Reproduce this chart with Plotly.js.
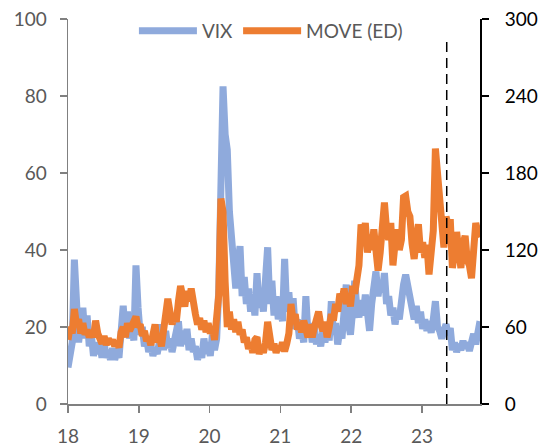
<!DOCTYPE html>
<html>
<head>
<meta charset="utf-8">
<script src="https://cdn.plot.ly/plotly-3.0.1.min.js"></script>
<style>html,body{margin:0;padding:0;background:#fff;}#chart{width:546px;height:446px;}</style>
</head>
<body>
<div id="chart"></div>
<script>
// Decimal years (18 = 2018)
const dates = [
  18.00,18.03,18.06,18.09,18.12,18.15,18.18,18.21,18.24,18.27,
  18.30,18.33,18.36,18.39,18.42,18.45,18.48,18.51,18.54,18.57,
  18.60,18.63,18.66,18.69,18.72,18.75,18.78,18.81,18.84,18.87,
  18.90,18.93,18.96,18.99,19.02,19.05,19.08,19.11,19.14,19.17,
  19.20,19.23,19.26,19.29,19.32,19.35,19.38,19.41,19.44,19.47,
  19.50,19.53,19.56,19.59,19.62,19.65,19.68,19.71,19.74,19.77,
  19.80,19.83,19.86,19.89,19.92,19.95,19.98,20.01,20.04,20.07,
  20.10,20.13,20.16,20.19,20.22,20.25,20.28,20.31,20.34,20.37,
  20.40,20.43,20.46,20.49,20.52,20.55,20.58,20.61,20.64,20.67,
  20.70,20.73,20.76,20.79,20.82,20.85,20.88,20.91,20.94,20.97,
  21.00,21.03,21.06,21.09,21.12,21.15,21.18,21.21,21.24,21.27,
  21.30,21.33,21.36,21.39,21.42,21.45,21.48,21.51,21.54,21.57,
  21.60,21.63,21.66,21.69,21.72,21.75,21.78,21.81,21.84,21.87,
  21.90,21.93,21.96,21.99,22.02,22.05,22.08,22.11,22.14,22.17,
  22.20,22.23,22.26,22.29,22.32,22.35,22.38,22.41,22.44,22.47,
  22.50,22.53,22.56,22.59,22.62,22.65,22.68,22.71,22.74,22.77,
  22.80,22.83,22.86,22.89,22.92,22.95,22.98,23.01,23.04,23.07,
  23.10,23.13,23.16,23.19,23.22,23.25,23.28,23.31,23.34,23.37,
  23.40,23.43,23.46,23.49,23.52,23.55,23.58,23.61,23.64,23.67,
  23.70,23.73,23.76,23.79,23.82
];
const vixValues = [
  9.5,12,16,37.5,24,16,21,25,17,23,
  15,18,12.5,16,13,15.5,12,16,12,14,
  11.5,14.5,11.5,13.5,12,20,25.5,18,24,17,
  21,16.5,36,25,18,20,15,17,13.5,15.5,
  12.5,14.5,13,16,20.7,14,19,14.5,17,13.5,
  16,19,21.5,15,19,15.5,19.5,14,17,13.5,
  15,11.5,14,12,17,13,16,12.5,18,14,
  17,30,55,82.5,70,66,50,44,38,30,
  36,41,28,33,26,30,24,28,23,34,
  25,29,24,30,40.7,26,32,23,28,22,
  25,21.5,37.7,24,29,22,27.5,19.5,22,17,
  19,16,28,18,21,16,20,15.5,18,15,
  19,16,20,16.5,26.7,18,21,15.5,19,17,
  24,31,21,18,24,32,25,22.5,27,23,
  28.4,22,19,26,30,34.4,28,32,29,34,
  26,28,23,25,20.7,24,22,28,31,33.6,
  30,29,24,22,25.5,21,24,19.5,22,19,
  21.5,18.5,22,26.7,20,19,17,20,20.7,18,
  19.7,14,16,13.5,15.5,14,16.4,14.5,16,13.8,
  17,18.2,15.5,19,21.5
];
const moveValues = [
  50,60,55,74,62,66,55,63,54,58,
  52,56,52,65,55,52,47,53,46,51,
  47,50,45,49,44,56,60,52,63,57,
  62,66,68,60,62,53,57,49,52,46,
  55,62,48,52,45,58,68,82,72,62,
  70,64,80,92,84,76,88,80,90,75,
  70,62,67,58,65,56,63,55,60,50,
  70,85,160,150,95,60,72,58,66,56,
  64,54,58,48,52,43,48,40,50,52,
  39,45,40,48,64,48,42,47,40,45,
  42,48,41,47,55,78,65,70,58,63,
  56,65,58,52,62,52,60,67,72,62,
  57,64,52,60,70,65,78,72,86,80,
  90,78,85,76,92,86,100,108,140,128,
  141,118,132,120,136,112,104,118,144,157,
  136,128,141,108,125,136,120,128,161,162,
  150,146,125,113,128,140,118,126,114,124,
  101,120,135,199,175,160,130,122,146,140,
  144,106,118,134,120,106,125,131,112,108,
  98,120,141,134,130
];

const xTicks = [18,19,20,21,22,23];
const leftTicks = [0,20,40,60,80,100];
const rightTicks = [0,60,120,180,240,300];
const seriesNames = ['VIX','MOVE (ED)'];
const markerDate = 23.35;

const FONT = 'Lato, "Liberation Sans", sans-serif';

const traces = [
  {x: dates, y: vixValues, name: seriesNames[0], type: 'scatter', mode: 'lines',
   line: {color: '#8FAADC', width: 7}, yaxis: 'y'},
  {x: dates, y: moveValues, name: seriesNames[1], type: 'scatter', mode: 'lines',
   line: {color: '#ED7D31', width: 7}, yaxis: 'y2'}
];

const layout = {
  width: 546, height: 446,
  margin: {l: 68, r: 66, t: 14, b: 42},
  paper_bgcolor: '#ffffff', plot_bgcolor: '#ffffff',
  font: {family: FONT, size: 19, color: '#595959'},
  showlegend: true,
  legend: {orientation: 'h', x: 0.16, xanchor: 'left', y: 0.969, yanchor: 'middle',
           font: {family: FONT, size: 19, color: '#595959'}, itemwidth: 58,
           bgcolor: 'rgba(0,0,0,0)', traceorder: 'normal'},
  xaxis: {range: [18, 23.82], tickvals: xTicks, ticktext: xTicks.map(String),
          showgrid: false, zeroline: false, showline: true, linecolor: '#808080', linewidth: 1.5,
          ticks: 'outside', ticklen: 7, tickcolor: '#808080', tickwidth: 1.5,
          ticklabelstandoff: 8, tickfont: {family: FONT, size: 19, color: '#595959'}},
  yaxis: {range: [0, 100], tickvals: leftTicks, showgrid: false, zeroline: false,
          showline: true, linecolor: '#808080', linewidth: 1.5,
          ticks: 'outside', ticklen: 7, tickcolor: '#808080', tickwidth: 1.5,
          ticklabelstandoff: 9, tickfont: {family: FONT, size: 19, color: '#595959'}},
  yaxis2: {range: [0, 300], tickvals: rightTicks, overlaying: 'y', side: 'right',
           showgrid: false, zeroline: false, showline: true, linecolor: '#000000', linewidth: 2,
           ticks: 'outside', ticklen: 7, tickcolor: '#000000', tickwidth: 2,
           ticklabelstandoff: 12, tickfont: {family: FONT, size: 19, color: '#000000'}},
  shapes: [{type: 'line', xref: 'x', yref: 'y', x0: markerDate, x1: markerDate, y0: 0, y1: 95,
            line: {color: '#000000', width: 1.5, dash: '10px,6px'}}]
};

Plotly.newPlot('chart', traces, layout, {staticPlot: true, displayModeBar: false});
</script>
</body>
</html>
